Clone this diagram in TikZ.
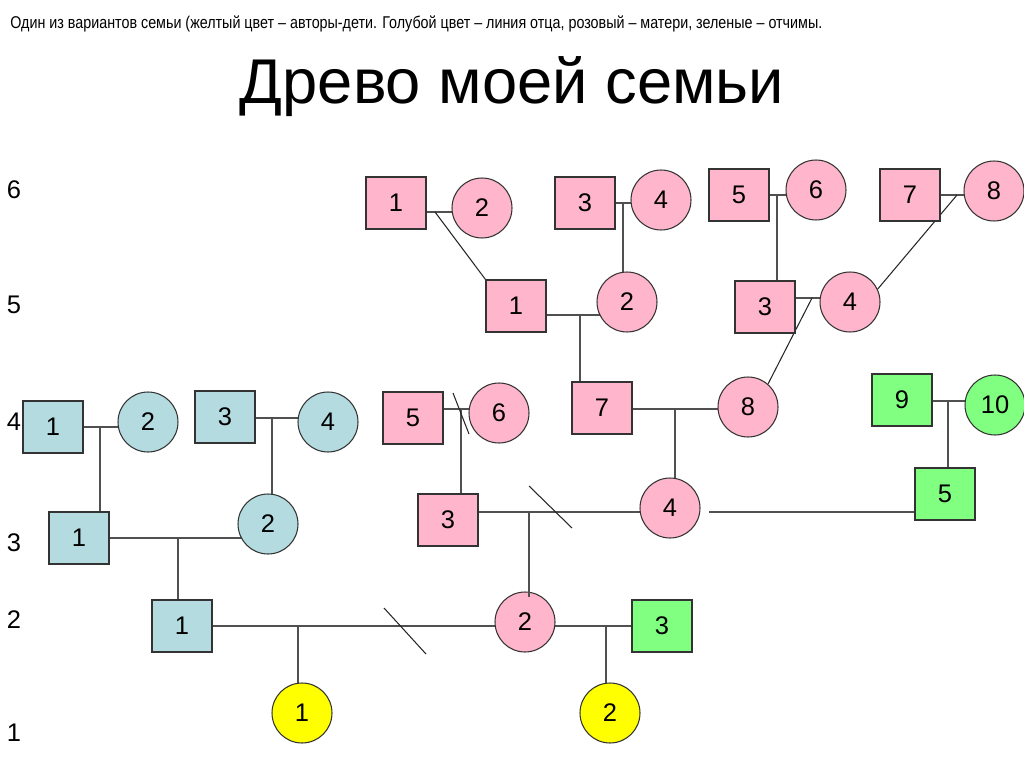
\documentclass[tikz,border=0pt]{standalone}
\usepackage{fontspec}
\setmainfont{Liberation Sans}
\usetikzlibrary{positioning,backgrounds}
\definecolor{fampink}{HTML}{FFB5CB}
\definecolor{famblue}{HTML}{B4DCE0}
\definecolor{famgreen}{HTML}{80FF80}
\definecolor{famyellow}{HTML}{FFFF00}
\definecolor{famline}{HTML}{505050}

\begin{document}
\begin{tikzpicture}[
    x=0.02cm,y=-0.02cm,
    man/.style   = {rectangle,draw=black!80,line width=0.6pt,inner sep=0pt,
                    minimum width=1.2cm,minimum height=1.04cm,
                    font=\fontsize{14.5}{16}\selectfont},
    woman/.style = {circle,draw=black!80,line width=0.6pt,inner sep=0pt,
                    minimum size=1.2cm,font=\fontsize{14.5}{16}\selectfont},
    pm/.style    = {man,fill=fampink},
    pw/.style    = {woman,fill=fampink},
    bm/.style    = {man,fill=famblue},
    bw/.style    = {woman,fill=famblue},
    gm/.style    = {man,fill=famgreen},
    gw/.style    = {woman,fill=famgreen},
    yw/.style    = {woman,fill=famyellow},
    gen/.style   = {font=\fontsize{14.5}{16}\selectfont,inner sep=0pt},
    ln/.style    = {famline,line width=0.6pt},
    cut/.style   = {black!85,line width=0.6pt},
  ]
  \useasboundingbox (0,0) rectangle (1024,767);

  \node[anchor=base west,inner sep=0pt,font=\fontsize{9.7}{11}\selectfont] (note) at (10,29)
       {\scalebox{0.84}[1]{Один из вариантов семьи (желтый цвет -- авторы-дети. Голубой цвет -- линия отца, розовый -- матери, зеленые -- отчимы.}};
  \node[anchor=base,inner sep=0pt,font=\fontsize{36}{40}\selectfont] (title) at (512,104)
       {Древо моей семьи};

  \foreach \g/\y in {6/190,5/305,4/422,3/543,2/620,1/733}
    \node[gen] (gen\g) at (14,\y) {\g};

  % 6
  \node[pm] (s61) at (396,203) {1};
  \node[pw] (c62) at (482,208) {2};
  \node[pm] (s63) at (585,203) {3};
  \node[pw] (c64) at (661,200) {4};
  \node[pm] (s65) at (739,195) {5};
  \node[pw] (c66) at (816,190) {6};
  \node[pm] (s67) at (910,195) {7};
  \node[pw] (c68) at (994,191) {8};
  % 5
  \node[pm] (s51) at (516,306) {1};
  \node[pw] (c52) at (627,302) {2};
  \node[pm] (s53) at (765,307) {3};
  \node[pw] (c54) at (850,302) {4};
  % 4
  \node[bm] (b41) at (53,427) {1};
  \node[bw] (b42) at (148,422) {2};
  \node[bm] (b43) at (225,417) {3};
  \node[bw] (b44) at (328,422) {4};
  \node[pm] (s45) at (413,418) {5};
  \node[pw] (c46) at (499,413) {6};
  \node[pm] (s47) at (602,408) {7};
  \node[pw] (c48) at (748,407) {8};
  \node[gm] (g49) at (902,400) {9};
  \node[gw] (g410) at (995,405) {10};
  % 3
  \node[bm] (b31) at (79,538) {1};
  \node[bw] (b32) at (268,524) {2};
  \node[pm] (s33) at (448,520) {3};
  \node[pw] (c34) at (670,508) {4};
  \node[gm] (g35) at (945,494) {5};
  % 2
  \node[bm] (b21) at (182,626) {1};
  \node[pw] (c22) at (525,622) {2};
  \node[gm] (g23) at (662,626) {3};
  % 1
  \node[yw] (y11) at (302,713) {1};
  \node[yw] (y12) at (610,713) {2};

  % marriage points
  \coordinate (j1)  at (435,212);
  \coordinate (j2)  at (623,203);
  \coordinate (j3)  at (777,195);
  \coordinate (j4)  at (957,195);
  \coordinate (j5)  at (580,315);
  \coordinate (j6)  at (812,298);
  \coordinate (j7)  at (100,427);
  \coordinate (j8)  at (272,418);
  \coordinate (j9)  at (461,409);
  \coordinate (j10) at (675,409);
  \coordinate (j11) at (948,401);
  \coordinate (j12) at (178,538);
  \coordinate (j13) at (529,512);
  \coordinate (j14) at (709,512);
  \coordinate (j15) at (298,626);
  \coordinate (j16) at (606,626);

  \begin{scope}[on background layer]
    \foreach \a/\b/\j in {s61/c62/j1,s63/c64/j2,s65/c66/j3,s67/c68/j4,
                          s51/c52/j5,s53/c54/j6,b41/b42/j7,b43/b44/j8,
                          s45/c46/j9,s47/c48/j10,g49/g410/j11,b31/b32/j12,
                          s33/c34/j13,b21/c22/j15,c22/g23/j16}
      \draw[ln] (\a |- \j) -- (\b |- \j);
    \foreach \j/\c in {j2/c52,j3/s53,j5/s47,j7/b31,j8/b32,j9/s33,j10/c34,
                       j11/g35,j12/b21,j15/y11,j16/y12}
      \draw[ln] (\j) -- (\j |- \c);
    \draw[ln] (j14) -- (g35 |- j14);
    \draw[cut] (j1) -- (s51.north west);
    \draw[cut] (j4) -- (c54.25);
    \draw[cut] (j6) -- (c48.49);
  \end{scope}
  \draw[ln] (j13) -- ([yshift=-3pt]j13 |- c22.north);

  % divorces
  \draw[cut] (453,393) -- (469,434);
  \draw[cut] (529,486) -- (572,528);
  \draw[cut] (384,608) -- (426,654);

\end{tikzpicture}
\end{document}
